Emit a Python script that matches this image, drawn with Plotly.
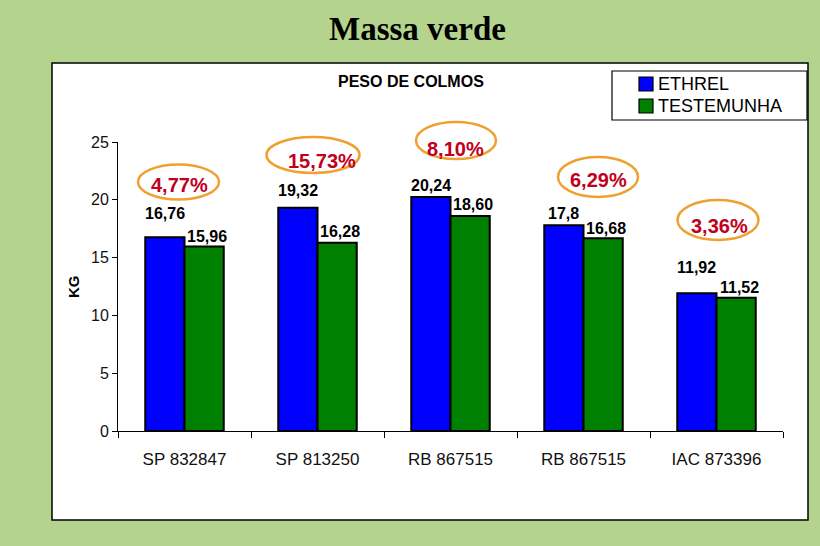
import plotly.graph_objects as go

categories = ["SP 832847", "SP 813250", "RB 867515", "RB 867515", "IAC 873396"]
ethrel = [16.76, 19.32, 20.24, 17.8, 11.92]
testemunha = [15.96, 16.28, 18.60, 16.68, 11.52]
ethrel_labels = ["16,76", "19,32", "20,24", "17,8", "11,92"]
testemunha_labels = ["15,96", "16,28", "18,60", "16,68", "11,52"]
pct_labels = ["4,77%", "15,73%", "8,10%", "6,29%", "3,36%"]
series_names = ["ETHREL", "TESTEMUNHA"]
series_colors = ["#0000ff", "#008000"]
y_ticks = [0, 5, 10, 15, 20, 25]

# layout geometry (pixels)
W, H = 820, 546
L, R, T, B = 118, 783, 142, 431
PW, PH = R - L, B - T


def px_x(p):
    return (p - L) / PW


def px_y(p):
    return (B - p) / PH


FONT = "Liberation Sans, Arial, sans-serif"
xs = list(range(len(categories)))

fig = go.Figure()
for name, vals, col in zip(series_names, [ethrel, testemunha], series_colors):
    fig.add_trace(go.Bar(x=xs, y=vals, name=name, showlegend=False,
                         marker=dict(color=col, line=dict(color="black", width=2))))

shapes = []
# white chart box
shapes.append(dict(type="rect", xref="paper", yref="paper", x0=px_x(52), x1=px_x(808), y0=px_y(63), y1=px_y(520),
                   fillcolor="white", line=dict(color="black", width=1.5), layer="below"))
# legend frame
shapes.append(dict(type="rect", xref="paper", yref="paper", x0=px_x(612), x1=px_x(807), y0=px_y(71), y1=px_y(120),
                   fillcolor="white", line=dict(color="black", width=1.2), layer="above"))

ann = []
# legend entries
legend_rows = [84, 106]
for row, name, col in zip(legend_rows, series_names, series_colors):
    shapes.append(dict(type="rect", xref="paper", yref="paper", x0=px_x(639), x1=px_x(653), y0=px_y(row + 7),
                       y1=px_y(row - 7), fillcolor=col, line=dict(color="black", width=1.2), layer="above"))
    ann.append(dict(text=name, xref="paper", yref="paper", x=px_x(656), y=px_y(row), xanchor="left",
                    yanchor="middle", showarrow=False, font=dict(family=FONT, size=18, color="black")))

# highlight ellipses (pixel decoration geometry)
ellipses = [(178.5, 182, 40.5, 17.5), (313, 155, 46.5, 18), (456, 140.5, 40, 18.5), (598, 177, 40, 20), (718, 220, 40.5, 20)]
pct_pos = [(179, 185), (322, 161), (455, 149), (598, 180), (719, 226)]
for (cx, cy, rx, ry) in ellipses:
    shapes.append(dict(type="circle", xref="paper", yref="paper", x0=px_x(cx - rx), x1=px_x(cx + rx),
                       y0=px_y(cy + ry), y1=px_y(cy - ry), line=dict(color="#f0a030", width=2.5), layer="above"))

ann.append(dict(text="<b>Massa verde</b>", xref="paper", yref="paper", x=px_x(417), y=px_y(29), showarrow=False,
                xanchor="center", yanchor="middle",
                font=dict(family="Liberation Serif, Times New Roman, serif", size=33, color="black")))
ann.append(dict(text="<b>PESO DE COLMOS</b>", xref="paper", yref="paper", x=px_x(411), y=px_y(81), showarrow=False,
                xanchor="center", yanchor="middle", font=dict(family=FONT, size=16, color="black")))
ann.append(dict(text="<b>KG</b>", xref="paper", yref="paper", x=px_x(73), y=px_y(287), showarrow=False, textangle=-90,
                xanchor="center", yanchor="middle", font=dict(family=FONT, size=15, color="black")))
for (tx, ty), t in zip(pct_pos, pct_labels):
    ann.append(dict(text=f"<b>{t}</b>", xref="paper", yref="paper", x=px_x(tx), y=px_y(ty), showarrow=False,
                    xanchor="center", yanchor="middle", font=dict(family=FONT, size=20, color="#c00020")))

half = (1 - 0.41) / 4
blue_lift = [13, 7, 1, 1, 15]
green_lift = [0, 1, 1, -1, 0]
for i in xs:
    ann.append(dict(text=f"<b>{ethrel_labels[i]}</b>", x=i - half, y=ethrel[i], xref="x", yref="y", yanchor="bottom",
                    xanchor="center", showarrow=False, yshift=blue_lift[i],
                    font=dict(family=FONT, size=16, color="black")))
    ann.append(dict(text=f"<b>{testemunha_labels[i]}</b>", x=i + half, y=testemunha[i], xref="x", yref="y",
                    yanchor="bottom", xanchor="center", xshift=3, showarrow=False, yshift=green_lift[i],
                    font=dict(family=FONT, size=16, color="black")))

fig.update_layout(
    width=W, height=H,
    margin=dict(l=L, r=W - R, t=T, b=H - B, pad=0),
    paper_bgcolor="#b4d48e",
    plot_bgcolor="rgba(0,0,0,0)",
    barmode="group", bargap=0.41, bargroupgap=0,
    showlegend=False,
    shapes=shapes, annotations=ann,
    font=dict(family=FONT),
)
fig.update_xaxes(range=[-0.5, len(categories) - 0.5], tickmode="array", tickvals=xs, ticktext=categories,
                 ticks="", showline=True, linecolor="black", linewidth=1, showgrid=False, zeroline=False,
                 tickfont=dict(family=FONT, size=17, color="#111"), ticklabelstandoff=13,
                 minor=dict(tick0=-0.5, dtick=1, ticks="outside", ticklen=6, tickcolor="black", showgrid=False))
fig.update_yaxes(range=[0, 25], tickmode="array", tickvals=y_ticks, ticks="outside", ticklen=5, tickcolor="black",
                 showline=True, linecolor="black", linewidth=1, showgrid=False, zeroline=False,
                 tickfont=dict(family=FONT, size=16, color="#111"))

fig.write_html("out.html")
